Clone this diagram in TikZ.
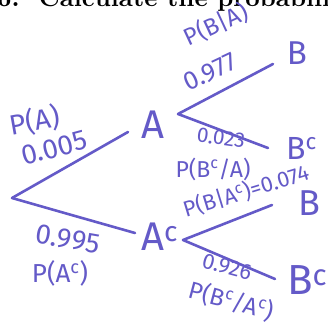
\documentclass[tikz,border=0pt]{standalone}
\usepackage{fontspec}
\newfontfamily\hand{Fira Sans}
\definecolor{ink}{RGB}{100,90,200}
\begin{document}
\begin{tikzpicture}[x=1pt,y=-1pt,
  branch/.style={draw=ink,line width=2.6pt,line cap=round,line join=round},
  lbl/.style={text=ink,inner sep=0pt,font=\hand\fontsize{26}{26}\selectfont},
  ev/.style={text=ink,inner sep=0pt,font=\hand\fontsize{40}{40}\selectfont},
]
\useasboundingbox (0,0) rectangle (327,331);
\clip (0,0) rectangle (327,331);
\fill[white] (0,0) rectangle (327,331);
\node[anchor=base west,inner sep=0pt] (title) at (-3,7) {\resizebox{333pt}{!}{\bfseries 6.\ \ Calculate the probabili}};
% branch points
\coordinate (root) at (12,198);
\coordinate (a) at (128,132);
\coordinate (kink) at (68,214);
\coordinate (ac) at (135,233);
\coordinate (av) at (178,114);
\coordinate (b1) at (273,64);
\coordinate (bc1) at (268,148);
\coordinate (acv) at (183,240);
\coordinate (b2) at (272,205);
\coordinate (bc2) at (275,279);
\draw[branch] (root) -- (a);
\draw[branch] (root) -- (kink) -- (ac);
\draw[branch] (b1) -- (av) -- (bc1);
\draw[branch] (b2) -- (acv) -- (bc2);
% events
\node[ev] (A) at (153,125) {A};
\node[ev,font=\hand\fontsize{33}{33}\selectfont] (B1) at (297,53) {B};
\node[ev,font=\hand\fontsize{32}{32}\selectfont,anchor=west] (Bc1) at (286,148) {B\textsuperscript{c}};
\node[ev,anchor=west] (Ac) at (141,237) {A\textsuperscript{c}};
\node[ev,font=\hand\fontsize{36}{36}\selectfont] (B2) at (309,203) {B};
\node[ev,font=\hand\fontsize{42}{42}\selectfont,anchor=west] (Bc2) at (287,280) {B\textsuperscript{c}};
% labels
\node[lbl,rotate=25,font=\hand\fontsize{24}{24}\selectfont] (pBA) at (216,25) {P(B|A)};
\node[lbl,rotate=25] (p977) at (210,72) {0.977};
\node[lbl,rotate=10,font=\hand\fontsize{28}{28}\selectfont] (pA) at (35,121) {P(A)};
\node[lbl,rotate=15,font=\hand\fontsize{28}{28}\selectfont] (p005) at (54,148) {0.005};
\node[lbl,rotate=-8,font=\hand\fontsize{21}{21}\selectfont] (p023) at (221,138) {0.023};
\node[lbl,font=\hand\fontsize{23}{23}\selectfont] (pBcA) at (213,169) {P(B\textsuperscript{c}/A)};
\node[lbl,rotate=17,font=\hand\fontsize{22}{22}\selectfont] (pBAc) at (246,191) {P(B|A\textsuperscript{c})=0.074};
\node[lbl,rotate=-10,font=\hand\fontsize{28}{28}\selectfont] (p995) at (68,239) {0.995};
\node[lbl] (pAc) at (60,273) {P(A\textsuperscript{c})};
\node[lbl,rotate=-15,font=\hand\fontsize{22}{22}\selectfont] (p926) at (227,267) {0.926};
\node[lbl,rotate=-15,font=\hand\fontsize{24}{24}\selectfont] (pBcAc) at (231,301) {P(B\textsuperscript{c}/A\textsuperscript{c})};
\end{tikzpicture}
\end{document}
